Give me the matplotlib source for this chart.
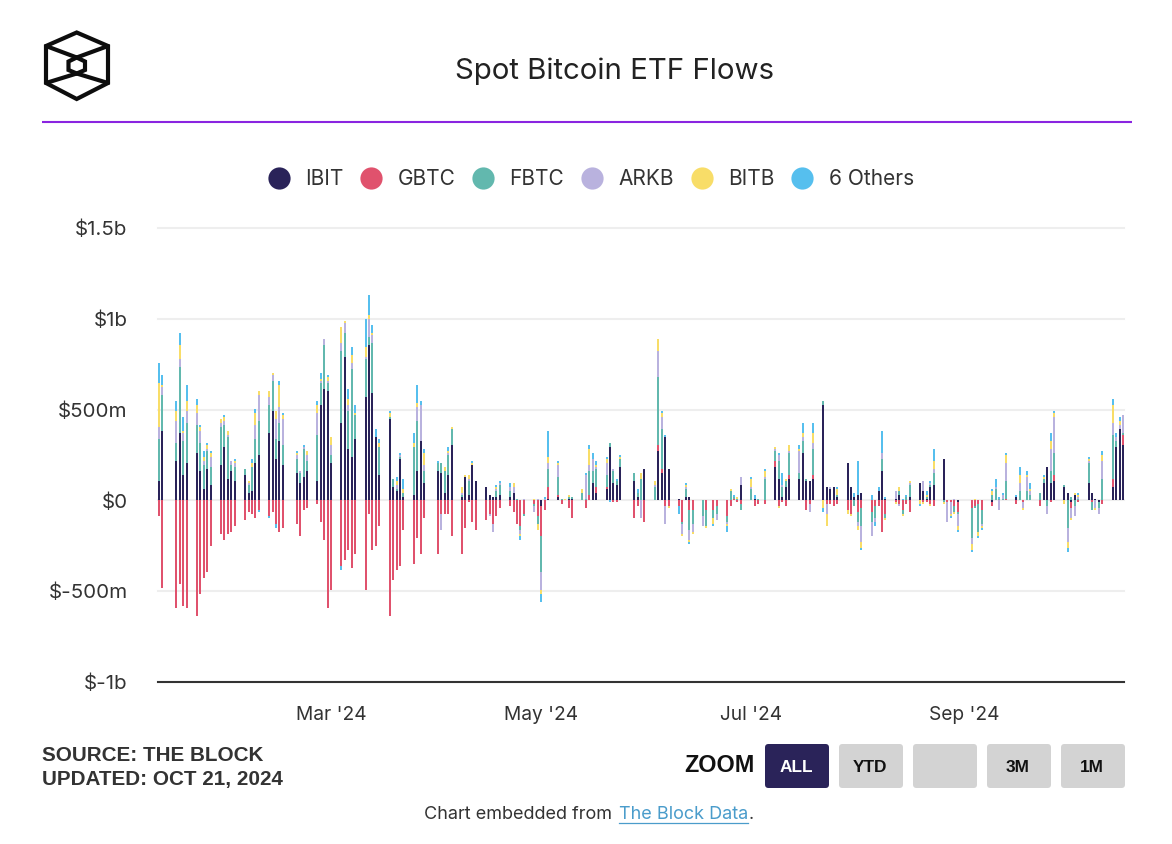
import numpy as np
import pandas as pd
import matplotlib
matplotlib.use("Agg")
import matplotlib.pyplot as plt
from matplotlib.lines import Line2D
from matplotlib.patches import FancyBboxPatch, Polygon

plt.rcParams['font.family'] = ['Inter', 'DejaVu Sans']

START = pd.Timestamp('2024-01-11')

# trading days, as days after the first listing date
days = [
0,1,5,6,7,8,11,12,13,14,
15,18,19,20,21,22,25,26,27,28,
29,32,33,34,35,36,40,41,42,43,
46,47,48,49,50,53,54,55,56,57,
60,61,62,63,64,67,68,69,70,71,
74,75,76,77,81,82,83,84,85,88,
89,90,91,92,95,96,97,98,99,102,
103,104,105,106,109,110,111,112,113,116,
117,118,119,120,123,124,125,126,127,130,
131,132,133,134,138,139,140,141,144,145,
146,147,148,151,152,153,154,155,158,159,
161,162,165,166,167,168,169,172,173,174,
176,179,180,181,182,183,186,187,188,189,
190,193,194,195,196,197,200,201,202,203,
204,207,208,209,210,211,214,215,216,217,
218,221,222,223,224,225,228,229,230,231,
232,236,237,238,239,242,243,244,245,246,
249,250,251,252,253,256,257,258,259,260,
263,264,265,266,267,270,271,272,273,274,
277,278,279,280]

# daily flows, $ millions
ibit = [
110,385,220,374,143,209,264,165,66,176,
88,198,297,121,165,110,143,44,55,209,
253,374,495,231,330,198,154,99,132,165,
110,528,616,605,209,429,792,286,242,341,
572,858,594,352,143,451,77,55,231,22,
33,165,330,99,165,154,44,143,308,22,
132,33,198,110,77,33,22,22,33,22,
44,0,0,0,0,0,-33,0,11,22,
0,0,11,11,0,0,0,99,44,66,
297,99,88,187,110,22,0,176,0,275,
154,352,176,11,0,22,22,0,0,0,
0,0,0,0,0,0,88,0,11,0,
0,187,121,22,77,121,121,264,110,110,
121,528,77,66,77,22,209,77,22,33,
44,0,0,55,165,11,11,33,0,0,
22,99,55,11,77,88,231,0,0,0,
-11,0,0,0,0,-11,0,0,0,0,
22,0,0,0,0,0,99,187,99,110,
77,44,-11,33,0,99,44,11,-11,0,
77,297,396,308]

gbtc = [
-88,-484,-594,-462,-583,-594,-638,-517,-429,-396,
-253,-187,-220,-187,-176,-143,-110,-66,-77,-99,
-55,-88,-66,-132,-176,-154,-132,-198,-55,-44,
-22,-121,-220,-594,-495,-363,-330,-275,-374,-297,
-495,-77,-275,-253,-143,-638,-440,-385,-363,-165,
-352,-209,-297,-99,-297,-77,-77,-77,-198,-297,
-154,-11,-121,-165,-110,-77,-132,-88,-44,-33,
-66,-132,-143,-77,-22,-88,-165,-55,66,11,
-22,0,-44,-99,0,-44,33,0,33,11,
0,-11,-11,0,-99,-33,0,-121,0,33,
22,-33,-33,-33,-121,0,-55,-55,0,-55,
-55,-33,-88,-33,11,-11,-22,0,-33,-22,
-22,33,-33,-11,-33,22,0,0,-55,-22,
22,0,-22,-22,-33,-22,-55,-77,0,-66,
-44,-66,-33,-33,-176,-77,-11,-22,-55,-22,
-66,0,-11,-11,-22,-33,0,-11,-11,-33,
-55,-44,-33,-22,-55,-22,0,0,0,11,
-22,0,-11,0,0,-33,0,0,-11,33,
0,0,-33,0,-11,0,-11,0,0,-22,
44,0,0,55]

fbtc = [
231,198,99,363,187,220,154,154,132,99,
99,209,121,231,33,77,33,44,132,132,
187,154,165,110,99,110,77,55,154,55,
253,121,242,44,44,396,132,209,484,132,
209,44,275,0,154,11,44,11,11,22,
264,275,0,66,44,55,121,110,88,11,
0,77,0,0,0,0,0,33,55,33,
0,11,-22,-11,-11,-44,-198,0,99,99,
11,0,11,11,44,11,132,66,99,66,
22,66,22,44,44,22,121,0,77,374,
220,0,0,0,-11,44,-110,-77,-88,-88,
-44,-44,-33,55,11,11,-33,66,0,11,
121,55,99,55,33,121,33,66,11,0,
143,22,0,0,0,11,0,0,-33,-55,
-99,-55,-66,0,66,-22,0,22,-22,22,
66,0,0,11,11,66,-11,0,0,-33,
-11,-165,-11,-154,-77,33,66,11,11,99,
0,55,0,55,33,44,22,-33,66,121,
11,-154,22,-33,11,110,-44,0,-33,121,
242,33,0,11]

arkb = [
66,44,121,44,44,66,66,66,22,11,
55,22,22,11,22,22,0,11,0,77,
143,44,33,110,88,143,22,11,11,33,
121,11,33,11,55,44,55,33,33,0,
11,99,44,0,0,0,0,22,11,0,
0,77,198,33,0,-88,0,11,0,11,
0,11,0,0,0,-11,-44,11,11,22,
33,0,-22,11,-33,11,-99,11,33,66,
0,0,0,0,0,132,33,66,11,66,
0,11,0,0,0,0,-99,0,11,143,
66,-99,0,0,-55,11,-55,-44,-55,0,
0,-33,-11,0,0,0,44,11,0,0,
11,11,33,11,0,11,121,22,0,-44,
33,0,-55,11,0,0,0,0,0,-22,
-88,-77,-22,0,33,0,44,-11,0,0,
11,0,55,0,11,22,0,-110,-66,11,
-66,-33,0,0,-11,0,11,-55,22,99,
0,44,-33,77,22,0,0,-44,121,198,
0,-77,-55,-55,11,11,0,-44,-33,99,
66,22,22,99]

bitb = [
242,11,55,77,11,55,44,22,22,22,
22,22,22,22,0,11,0,11,22,66,
22,33,11,44,121,22,11,0,0,22,
44,11,0,22,44,88,11,33,44,11,
55,22,11,0,22,22,0,22,0,22,
22,22,0,66,0,0,22,11,11,33,
11,22,11,0,0,0,0,11,0,0,
22,0,-11,0,11,-33,-22,0,33,11,
0,11,11,0,22,0,88,0,11,22,
0,0,0,11,0,0,33,0,22,66,
22,0,-11,0,-11,11,-11,-11,0,-11,
-33,0,-11,11,0,11,0,44,0,0,
33,11,-11,0,11,33,11,22,0,0,
55,-44,-66,0,0,33,-22,-11,0,-22,
-33,0,0,0,0,-11,-11,22,-11,0,
11,-22,-11,11,-11,44,-11,0,-11,-11,
-22,-33,11,-22,-11,22,0,0,0,44,
0,44,-11,11,11,0,11,0,44,22,
-22,-33,-11,11,11,11,0,-11,0,33,
99,0,22,0]

others = [
110,55,55,66,77,88,33,11,33,11,
11,0,11,0,0,11,0,0,22,22,
-11,-11,0,-22,22,11,11,0,11,0,
22,33,0,11,0,-22,0,55,44,44,
154,110,44,44,22,11,0,22,11,55,
55,99,22,22,11,0,0,22,0,0,
0,0,11,0,0,0,0,11,11,22,
0,0,-22,0,0,0,-44,11,143,11,
0,0,0,0,0,11,22,33,22,11,
-11,0,11,11,0,22,0,0,0,0,
11,11,0,-44,0,11,-11,0,0,0,
-11,0,-33,0,11,0,0,11,22,0,
11,0,11,66,0,0,22,55,0,0,
55,-22,0,0,0,11,0,0,22,187,
-11,33,-22,22,121,11,0,0,11,11,
0,-11,0,22,11,66,0,0,-11,0,
-11,-11,0,-11,-11,11,44,11,11,11,
11,44,0,22,33,0,11,0,44,11,
0,-22,0,0,11,11,0,0,0,22,
33,22,22,0]

series_names = ['IBIT', 'GBTC', 'FBTC', 'ARKB', 'BITB', '6 Others']
series_values = [ibit, gbtc, fbtc, arkb, bitb, others]
series_colors = ['#2a2359', '#e0526d', '#62b8ae', '#b9b2de', '#f8dd68', '#56bfee']

y_ticks = [-1000, -500, 0, 500, 1000, 1500]
y_labels = ['$-1b', '$-500m', '$0', '$500m', '$1b', '$1.5b']
x_ticks = ['2024-03-01', '2024-05-01', '2024-07-01', '2024-09-01']
x_labels = ["Mar '24", "May '24", "Jul '24", "Sep '24"]
zoom_buttons = ['ALL', 'YTD', '', '3M', '1M']

W, H = 1172, 844
TXT = '#333333'
fig = plt.figure(figsize=(W / 100, H / 100), dpi=100, facecolor='white')

# plot area: left 158, right 1124, y(-1000)=682, y(0)=500.5
top_px = 682 - 2500 * 181.5 / 1000
ax = fig.add_axes([158 / W, 1 - 682 / H, (1124 - 158) / W, (682 - top_px) / H])
dates = START + pd.to_timedelta(days, unit='D')
pos = np.zeros(len(days))
neg = np.zeros(len(days))
width = pd.Timedelta(days=0.5808)
handles = []
for name, vals, col in zip(series_names, series_values, series_colors):
    v = np.array(vals, dtype=float)
    bottom = np.where(v >= 0, pos, neg)
    ax.bar(dates, v, bottom=bottom, width=width, color=col, linewidth=0, zorder=3)
    pos += np.where(v > 0, v, 0)
    neg += np.where(v < 0, v, 0)
    handles.append(Line2D([], [], linestyle='', marker='o', markersize=16, color=col,
                          markeredgewidth=0, label=name))

ax.set_ylim(-1000, 1500)
span = 0.29
ax.set_xlim(START - pd.Timedelta(days=span), START + pd.Timedelta(days=280 + span))
ax.set_yticks(y_ticks, y_labels)
ax.set_xticks(pd.to_datetime(x_ticks), x_labels)
ax.tick_params(axis='y', length=0, pad=22, labelsize=14.8, labelcolor=TXT)
ax.tick_params(axis='x', length=0, pad=17, labelsize=13.8, labelcolor=TXT)
ax.grid(axis='y', color='#eeeeee', linewidth=1.5, zorder=0)
for gl in ax.get_ygridlines():
    gl.set_clip_on(False)
ax.set_axisbelow(True)
for s in ['top', 'left', 'right']:
    ax.spines[s].set_visible(False)
ax.spines['bottom'].set_color('#333333')
ax.spines['bottom'].set_linewidth(1.5)
for lab in ax.get_yticklabels():
    lab.set_verticalalignment('center_baseline')

# overlay in pixel coordinates for header, logo and footer
ov = fig.add_axes([0, 0, 1, 1], zorder=-1)
ov.set_xlim(0, W)
ov.set_ylim(H, 0)
ov.axis('off')

fig.suptitle('Spot Bitcoin ETF Flows', x=614.5 / W, y=1 - 71 / H, va='center', ha='center',
             fontsize=21.2, color='#222222')
ov.plot([42, 1132], [122, 122], color='#8a24e0', lw=1.5, solid_capstyle='butt')

# logo
K = '#0d0d0d'
outer = [(76.7, 32.5), (108, 46), (108, 83), (76.7, 99), (46, 83), (46, 46)]
inner = [(76.7, 57.5), (85, 61.5), (85, 70), (76.7, 73.5), (68.5, 70), (68.5, 61.5)]
ov.add_patch(Polygon(outer, closed=True, fill=False, edgecolor=K, lw=3, joinstyle='miter'))
ov.add_patch(Polygon(inner, closed=True, fill=False, edgecolor=K, lw=3, joinstyle='miter'))
for a, b in [(outer[5], inner[0]), (outer[1], inner[0]), (outer[4], inner[3]), (outer[2], inner[3])]:
    ov.plot([a[0], b[0]], [a[1], b[1]], color=K, lw=3, solid_capstyle='round')

# legend
leg = fig.legend(handles=handles, loc='center', bbox_to_anchor=(591 / W, 1 - 179 / H), ncol=6,
                 frameon=False, fontsize=15, labelcolor=TXT, handlelength=1.0, handletextpad=0.75,
                 columnspacing=0.85, borderpad=0)

# footer
ov.text(42, 755.5, 'SOURCE: THE BLOCK', family='Liberation Sans', weight='bold', fontsize=14.9,
        color=TXT, va='center', ha='left')
ov.text(42, 779.5, 'UPDATED: OCT 21, 2024', family='Liberation Sans', weight='bold', fontsize=14.9,
        color=TXT, va='center', ha='left')
ov.text(684, 765.5, 'ZOOM', family='Liberation Sans', weight='bold', fontsize=16.8,
        color='#111111', va='center', ha='left')
for i, lab in enumerate(zoom_buttons):
    x0 = 765 + 74 * i
    active = i == 0
    ov.add_patch(FancyBboxPatch((x0 + 3, 747), 58, 38, boxstyle='round,pad=3,rounding_size=3.5',
                                facecolor='#2a2359' if active else '#d3d3d3', edgecolor='none'))
    ov.text(x0 + 31, 768, lab, family='Liberation Sans', weight='bold', fontsize=12.4,
            color='white' if active else '#111111', va='center', ha='center')

ov.text(424, 814.5, 'Chart embedded from', fontsize=13, color=TXT, va='center', ha='left')
ov.text(619, 814.5, 'The Block Data', fontsize=13, color='#4a9ccb', va='center', ha='left')
ov.text(749, 814.5, '.', fontsize=13, color=TXT, va='center', ha='left')
ov.plot([619, 748], [822.5, 822.5], color='#4a9ccb', lw=0.9)

fig.savefig('out.png', dpi=100, facecolor='white')
